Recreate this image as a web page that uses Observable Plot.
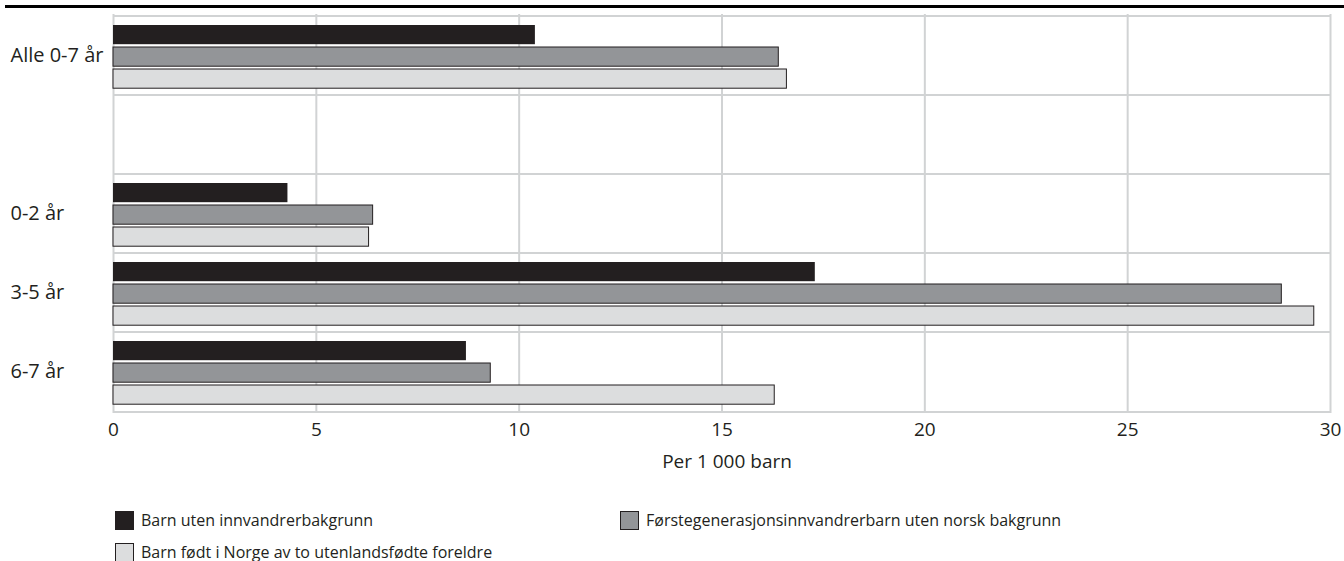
<!DOCTYPE html>
<html>
<head>
<meta charset="utf-8">
<script src="https://cdn.jsdelivr.net/npm/d3@7"></script>
<script src="https://cdn.jsdelivr.net/npm/@observablehq/plot@0.6"></script>
<style>
  html, body { margin: 0; padding: 0; background: #fff; }
  body { width: 1344px; height: 561px; position: relative; overflow: hidden; font-family: "Open Sans", sans-serif; color: #231f20; }
  #rule { position: absolute; left: 5px; right: 0; top: 5px; height: 3px; background: #000; z-index: 2; }
  #chart { position: absolute; left: 0; top: 0; z-index: 1; }
  #chart svg { background: transparent !important; }
  .leg { position: absolute; display: flex; align-items: center; font-size: 16px; white-space: nowrap; z-index: 2; }
  .sw { width: 19px; height: 19px; box-sizing: border-box; margin-right: 7px; border: 1px solid #231f20; }
</style>
</head>
<body>
<div id="chart"></div>
<div id="rule"></div>
<div id="legend"></div>
<script>
// ---- data ----
const categories = ["Alle 0-7 år", " ", "0-2 år", "3-5 år", "6-7 år"];
const groups = ["Alle 0-7 år", "0-2 år", "3-5 år", "6-7 år"];
const seriesNames = [
  "Barn uten innvandrerbakgrunn",
  "Førstegenerasjonsinnvandrerbarn uten norsk bakgrunn",
  "Barn født i Norge av to utenlandsfødte foreldre"
];
const utenInnvandrerbakgrunn = [10.4, 4.3, 17.3, 8.7];
const forstegenerasjon = [16.4, 6.4, 28.8, 9.3];
const fodtINorge = [16.6, 6.3, 29.6, 16.3];
const xTicks = [0, 5, 10, 15, 20, 25, 30];
const xLabel = "Per 1 000 barn";
const colors = ["#231f20", "#939598", "#dcddde"];

// ---- layout ----
const W = 1344, H = 490;
const mTop = 14, mBottom = H - 413, mLeft = 113, mRight = 14;
const band = (H - mTop - mBottom) / categories.length;
const barH = 20, offsets = [9, 31, 53];
const gridColor = "#d1d3d4";

const seriesValues = [utenInnvandrerbakgrunn, forstegenerasjon, fodtINorge];
const barMarks = seriesValues.map((vals, s) =>
  Plot.barX(groups.map((g, i) => ({g, v: vals[i]})), {
    x: "v", y: "g",
    fill: colors[s],
    stroke: s === 0 ? null : "#231f20",
    strokeWidth: 1,
    insetTop: offsets[s],
    insetBottom: band - offsets[s] - barH
  })
);

const chart = Plot.plot({
  width: W, height: H,
  marginTop: mTop, marginBottom: mBottom, marginLeft: mLeft, marginRight: mRight,
  style: {fontFamily: "Open Sans, sans-serif", fontSize: "19px", color: "#231f20", background: "transparent"},
  x: {domain: [0, 30], axis: null},
  y: {domain: categories, padding: 0, axis: null},
  marks: [
    Plot.ruleX(xTicks, {x: d => d, stroke: gridColor, strokeWidth: 2}),
    Plot.ruleY(categories, {y: d => d, dy: -band / 2, stroke: gridColor, strokeWidth: 2}),
    Plot.ruleY([categories[categories.length - 1]], {y: d => d, dy: band / 2, stroke: gridColor, strokeWidth: 2}),
    ...barMarks,
    Plot.text(groups, {y: d => d, text: d => d, frameAnchor: "left", dx: -(mLeft - 10), textAnchor: "start", fill: "#231f20", fontSize: 20}),
    Plot.text(xTicks, {x: d => d, text: d => String(d), frameAnchor: "bottom", dy: 22, fill: "#231f20", fontSize: 19}),
    Plot.text([xLabel], {x: () => 15, text: d => d, frameAnchor: "bottom", dy: 54, dx: 5, fill: "#231f20", fontSize: 19})
  ]
});
document.getElementById("chart").appendChild(chart);

// ---- legend ----
const legendPos = [
  {left: 115, top: 509},
  {left: 620, top: 509},
  {left: 115, top: 541}
];
const legend = document.getElementById("legend");
seriesNames.forEach((name, i) => {
  const d = document.createElement("div");
  d.className = "leg";
  d.style.left = legendPos[i].left + "px";
  d.style.top = legendPos[i].top + "px";
  const sw = document.createElement("div");
  sw.className = "sw";
  sw.style.background = colors[i];
  if (i === 0) sw.style.borderColor = colors[0];
  const t = document.createElement("span");
  t.textContent = name;
  d.appendChild(sw); d.appendChild(t);
  legend.appendChild(d);
});
</script>
</body>
</html>
